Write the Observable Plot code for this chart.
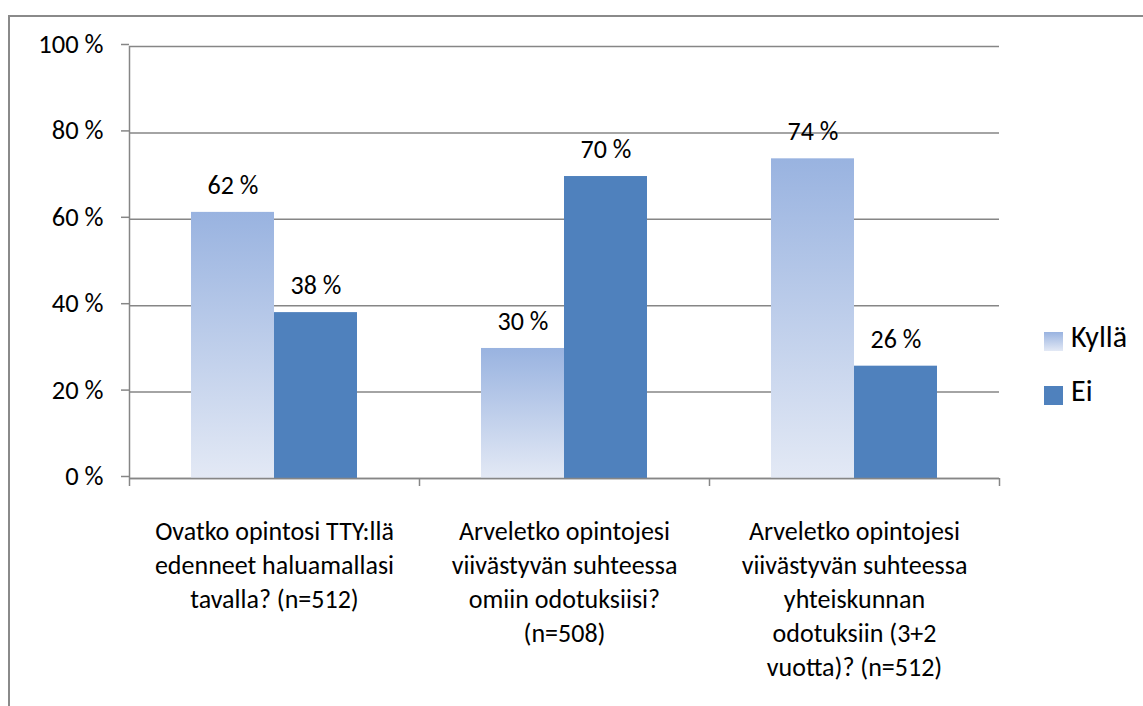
<!DOCTYPE html>
<html><head><meta charset="utf-8">
<script src="https://cdn.jsdelivr.net/npm/d3@7"></script>
<script src="https://cdn.jsdelivr.net/npm/@observablehq/plot@0.6"></script>
<style>
body{margin:0;background:#fff;}
#wrap{position:relative;width:1143px;height:706px;overflow:hidden;font-family:Carlito,Calibri,Lato,sans-serif;background:#fff;}
#border{position:absolute;left:8px;top:15px;width:1200px;height:800px;border-top:2px solid #8a8a8a;border-left:2px solid #8a8a8a;}
#chart{position:absolute;left:0;top:0;}
.leg{position:absolute;display:flex;align-items:flex-end;font-size:30px;color:#000;line-height:1;}
.sw{width:19px;height:19px;margin-right:8px;margin-bottom:1px;}
</style></head><body>
<div id="wrap"><div id="border"></div><div id="chart"></div><div id="legend"></div></div>
<script>
const categories = [
  "Ovatko opintosi TTY:llä\nedenneet haluamallasi\ntavalla? (n=512)",
  "Arveletko opintojesi\nviivästyvän suhteessa\nomiin odotuksiisi?\n(n=508)",
  "Arveletko opintojesi\nviivästyvän suhteessa\nyhteiskunnan\nodotuksiin (3+2\nvuotta)? (n=512)"
];
const series = ["Kyllä", "Ei"];
const kylla = [61.6, 30.1, 74.0];
const ei = [38.4, 69.9, 26.0];
const yTicks = [0, 20, 40, 60, 80, 100];
const seriesColors = ["url(#kyllaGrad)", "#4f81bd"];
const legendSwatches = ["linear-gradient(#99b3e0,#e3e9f5)", "#4f81bd"];

const data = categories.flatMap((c, i) => [
  {cat: c, series: "Kyllä", value: kylla[i]},
  {cat: c, series: "Ei", value: ei[i]}
]);

const gray = "#868686";
const plot = Plot.plot({
  width: 1143, height: 706,
  marginLeft: 128, marginRight: 143, marginTop: 46, marginBottom: 228,
  style: {fontFamily: "Carlito, Calibri, Lato, sans-serif", fontSize: "24px", color: "#000", background: "transparent", overflow: "visible"},
  fx: {domain: categories, padding: 0, axis: null},
  x: {domain: series, paddingInner: 0, paddingOuter: 0.73, axis: null},
  y: {domain: [0, 100], axis: null},
  color: {domain: series, range: seriesColors},
  marks: [
    Plot.gridY(yTicks, {stroke: gray, strokeOpacity: 1, strokeWidth: 1.5}),
    Plot.barY(data, {fx: "cat", x: "series", y: "value", fill: "series"}),
    Plot.ruleY([0], {stroke: gray, strokeWidth: 1.5}),
    Plot.axisY(yTicks, {tickSize: 8, tickPadding: 18, stroke: gray, strokeWidth: 1.5, fill: "#000", fontSize: 26.5, dy: -2, label: null, tickFormat: d => `${d} %`}),
    Plot.text(data, {fx: "cat", x: "series", y: "value", text: d => `${Math.round(d.value)} %`, dy: -27, fontSize: 26, fill: "#000"}),
    Plot.text(categories, {fx: d => d, text: d => d, frameAnchor: "bottom", lineAnchor: "top", dy: 37, fontSize: 26, lineHeight: 1.31, fill: "#000"})
  ]
});

const svg = d3.select(plot);
const grad = svg.insert("defs", ":first-child").append("linearGradient")
  .attr("id", "kyllaGrad").attr("x1", 0).attr("y1", 0).attr("x2", 0).attr("y2", 1);
grad.append("stop").attr("offset", "0%").attr("stop-color", "#99b3e0");
grad.append("stop").attr("offset", "100%").attr("stop-color", "#e3e9f5");

const fx = plot.scale("fx"), y = plot.scale("y");
const left = fx.apply(categories[0]);
const bounds = categories.map(c => fx.apply(c)).concat([fx.apply(categories[categories.length - 1]) + fx.bandwidth]);
const g = svg.append("g").attr("stroke", gray).attr("stroke-width", 1.5);
g.append("line").attr("x1", left + 0.5).attr("x2", left + 0.5).attr("y1", y.apply(100)).attr("y2", y.apply(0));
bounds.forEach(b => g.append("line").attr("x1", b + 0.5).attr("x2", b + 0.5).attr("y1", y.apply(0)).attr("y2", y.apply(0) + 8));

document.getElementById("chart").appendChild(plot);

const legend = d3.select("#legend");
const legBaselines = [347, 401];
series.forEach((s, i) => {
  const item = legend.append("div").attr("class", "leg").style("left", "1044px").style("top", (legBaselines[i] - 25) + "px");
  item.append("div").attr("class", "sw").style("background", legendSwatches[i]);
  item.append("span").text(s);
});
</script>
</body></html>
